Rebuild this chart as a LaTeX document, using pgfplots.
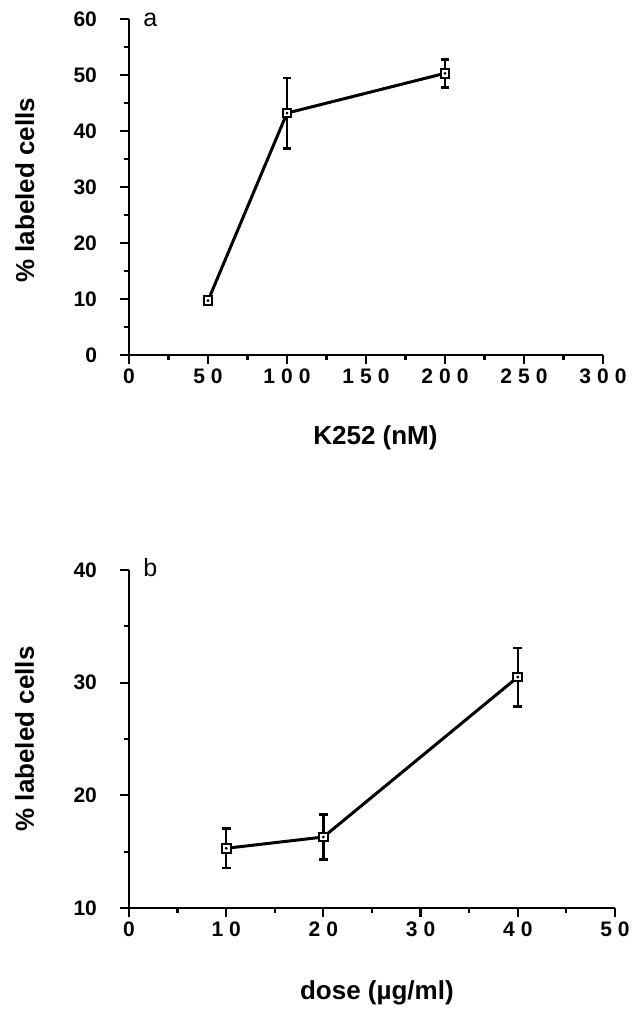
\documentclass[border=0pt]{standalone}
\usepackage{fontspec}
\setmainfont{Liberation Sans}
\usepackage{pgfplots}
\pgfplotsset{compat=1.18}

% letter-spaced digits on the x axis, as in the scanned figure
\newcommand{\g}{\hspace{3pt}}

\pgfplotsset{
  panel/.style={
    scale only axis,
    axis x line=bottom, axis y line=left,
    axis line style={-, line width=1.4pt},
    tick align=outside,
    major tick length=4.5pt, minor tick length=2.5pt,
    every tick/.style={black, line width=1.1pt},
    minor tick num=1,
    tick label style={font=\fontsize{10.5}{10.5}\selectfont\bfseries},
    yticklabel style={xshift=-8pt},
    xticklabel style={yshift=1pt},
    /pgf/number format/assume math mode=true,
    label style={font=\fontsize{13}{13}\selectfont\bfseries},
    clip=false,
  },
  dataline/.style={
    black, line width=1.5pt, mark=square*, mark size=2.2pt,
    mark options={fill=white, line width=1pt},
    error bars/.cd, y dir=both, y explicit,
    error bar style={line width=1.2pt},
    error mark options={rotate=90, mark size=2.2pt, line width=1.2pt},
  },
  centredot/.style={only marks, mark=*, mark size=0.5pt, black},
}

\begin{document}
\begin{tikzpicture}
  \useasboundingbox (-64.5pt,-328pt) rectangle (252pt,177.5pt);

  % panel a
  \begin{axis}[panel,
    at={(0pt,0pt)}, anchor=south west,
    width=237pt, height=168pt,
    xmin=0, xmax=300, ymin=0, ymax=60,
    xtick={0,50,...,300},
    xticklabels={0,5\g0,1\g0\g0,1\g5\g0,2\g0\g0,2\g5\g0,3\g0\g0},
    ytick={0,10,...,60},
    xlabel={K252 (nM)},
    ylabel={\% labeled cells},
    xlabel style={at={(axis description cs:0.52,-0.245)}, anchor=center},
    ylabel style={at={(axis description cs:-0.22,0.49)}, anchor=center},
  ]
    \addplot[dataline] coordinates {
      (50,9.7)   +- (0,0)
      (100,43.2) +- (0,6.3)
      (200,50.3) +- (0,2.5)
    };
    \addplot[centredot] coordinates {(50,9.7) (100,43.2) (200,50.3)};
    \node[anchor=base west, inner sep=0pt, font=\fontsize{12.5}{12.5}\selectfont]
      at ([xshift=7pt, yshift=-4pt]rel axis cs:0,1) {a};
  \end{axis}

  % panel b
  \begin{axis}[panel,
    at={(0pt,-276.5pt)}, anchor=south west,
    width=243pt, height=169pt,
    xmin=0, xmax=50, ymin=10, ymax=40,
    xtick={0,10,...,50},
    xticklabels={0,1\g0,2\g0,3\g0,4\g0,5\g0},
    ytick={10,20,30,40},
    xlabel={dose (µg/ml)},
    ylabel={\% labeled cells},
    xlabel style={at={(axis description cs:0.51,-0.25)}, anchor=center},
    ylabel style={at={(axis description cs:-0.215,0.5)}, anchor=center},
  ]
    \addplot[dataline] coordinates {
      (10,15.3) +- (0,1.75)
      (20,16.3) +- (0,2.0)
      (40,30.5) +- (0,2.6)
    };
    \addplot[centredot] coordinates {(10,15.3) (20,16.3) (40,30.5)};
    \node[anchor=base west, inner sep=0pt, font=\fontsize{12.5}{12.5}\selectfont]
      at ([xshift=7pt, yshift=-3pt]rel axis cs:0,1) {b};
  \end{axis}
\end{tikzpicture}
\end{document}
